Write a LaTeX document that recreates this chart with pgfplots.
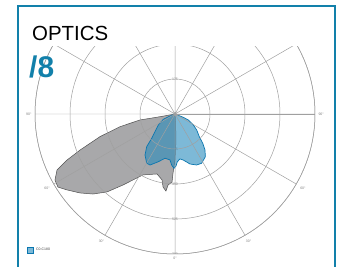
\documentclass[border=0pt]{standalone}
\usepackage{pgfplots}
\pgfplotsset{compat=1.18}
\usepgfplotslibrary{polar}
\usepackage{fontspec}
\setmainfont{Liberation Sans}
\definecolor{frameblue}{RGB}{18,128,170}
\definecolor{gridgray}{RGB}{160,160,160}
\definecolor{shapegray}{RGB}{168,168,170}
\definecolor{edgegray}{RGB}{80,80,80}
\definecolor{lumblue}{RGB}{38,138,188}
\definecolor{lumedge}{RGB}{10,118,175}
\begin{document}
\begin{tikzpicture}[x=1bp,y=1bp]
\path[use as bounding box] (0,0) rectangle (340,267);
\begin{scope}
\clip (0,0) rectangle (340,220);
\begin{polaraxis}[
  at={(175bp,153bp)}, anchor=center,
  width=280bp, height=280bp, scale only axis,
  ymin=0, ymax=700,
  xtick={0,30,...,330},
  xticklabels={90°,,,,,,90°,60°,30°,0°,30°,60°},
  ytick={175,350,525,700}, yticklabels={},
  grid=major,
  axis on top,
  major grid style={gridgray, line width=0.5bp},
  axis line style={gridgray, line width=0.5bp},
  tick style={draw=none},
  xticklabel style={font=\fontsize{3.5}{4}\selectfont, text=gray},
  legend style={at={(-0.028,0.013)}, anchor=west, draw=none, fill=none,
    font=\fontsize{3.5}{4}\selectfont, text=darkgray, inner sep=0pt},
  legend image code/.code={\draw[#1] (0bp,-3bp) rectangle (6bp,3bp);},
]
\foreach \r/\t in {175/175,350/350,525/525,700/700}{
  \edef\tmp{\noexpand\node[fill=white, inner sep=0.4bp, font=\noexpand\fontsize{3.5}{4}\noexpand\selectfont, text=gray] at (axis cs:270,\r) {\t};}
  \tmp
}
\node[fill=white, inner sep=0.4bp, font=\fontsize{3.5}{4}\selectfont, text=gray] at (axis cs:90,175) {175};
\addplot[fill=shapegray, draw=edgegray, line width=0.5bp, forget plot] coordinates {
(180,0) (190.2,76) (189.7,178) (193,282) (196.8,392) (200.8,508) (203.1,587)
(205.4,653) (208.8,685) (212,690) (215.1,660) (219.7,618) (224.3,573)
(228.9,517) (233.8,440) (237.5,391) (242.3,344) (253.3,313) (258.9,336)
(260.7,370) (263.3,388) (264.4,357) (267.5,340) (268.1,295) (270,230)
(272.2,130) (275,25) (275,0)
};
\addplot[fill=lumblue, fill opacity=0.6, draw=lumedge, line width=0.7bp] coordinates {
(340,0) (338.3,45) (335.7,73) (329,107) (323.6,135) (317,166) (313.4,202)
(309.8,234) (305.4,262) (298.4,280) (293,277) (286.7,261) (280.2,234)
(276.3,226) (272.8,239) (271.1,260) (268.9,272) (266.3,256) (263.8,231)
(257.3,227) (250.7,253) (243.9,284) (240.1,284) (233.8,254) (229.1,216)
(226.2,168) (221.5,134) (213.4,100) (204.4,64) (201.8,27) (200,0)
};
\addlegendentry{C0-C180}
\end{polaraxis}
\end{scope}
\draw[frameblue, line width=1.3bp] (18,-5) -- (18,261) -- (335,261) -- (335,-5);
\node[anchor=base west, inner sep=0, font=\fontsize{20.5}{21}\selectfont] at (32,226.3) {OPTICS};
\node[anchor=base west, inner sep=0, font=\bfseries\fontsize{30}{30}\selectfont, text=frameblue] at (29,190) {/8};
\end{tikzpicture}
\end{document}
